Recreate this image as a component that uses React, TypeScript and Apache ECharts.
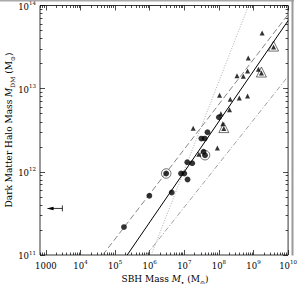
import React, { useEffect, useRef } from "react";
import * as echarts from "echarts";

// axis ranges in log10 units
const xRange = [2.83, 10];
const yRange = [11, 14];

const xMajorTicks = [3, 4, 5, 6, 7, 8, 9, 10];
const xTickLabels = ["1000", "10^4", "10^5", "10^6", "10^7", "10^8", "10^9", "10^10"];
const yMajorTicks = [11, 12, 13, 14];
const yTickLabels = ["10^11", "10^12", "10^13", "10^14"];

// [log10 M_BH, log10 M_DM]
const circlePoints = [
  [5.257, 11.336], [5.991, 11.712], [6.637, 11.752], [6.477, 11.98],
  [6.906, 11.98], [7.0, 11.98], [7.094, 11.908], [7.086, 12.116],
  [7.229, 12.104], [7.494, 12.4], [7.591, 12.4], [7.671, 12.476],
  [7.557, 12.242], [7.6, 12.2], [8.0, 12.656],
];
const trianglePoints = [
  [7.257, 12.524], [7.42, 12.212], [7.957, 12.288], [8.057, 12.698],
  [8.114, 12.578], [8.143, 12.52], [8.306, 12.746], [8.02, 12.92],
  [8.329, 12.872], [8.591, 12.888], [8.829, 12.912], [8.523, 13.156],
  [8.706, 13.148], [8.829, 13.212], [9.143, 13.232], [9.229, 13.188],
  [8.849, 13.368], [9.249, 13.67], [9.58, 13.5],
];
const ringedCircles = [[6.477, 11.98], [7.6, 12.2]];
const ringedTriangles = [[8.143, 12.52], [9.229, 13.188], [9.58, 13.5]];
// [upper-limit log10 M_BH, log10 M_DM, arrow tip log10 M_BH]
const upperLimit = [[3.477, 11.56, 3.02]];

const solidLine = [[5.35, 11], [10, 13.818]];
const dashedLine = [[4.643, 11], [10, 13.892]];
const dottedLine = [[6.043, 11], [8.857, 14]];
const dashDotLine = [[5.903, 11], [10, 13.149]];

const SERIF = "DejaVu Serif";

function minorTicks(lo: number, hi: number) {
  const out: number[] = [];
  for (let n = Math.floor(lo); n < hi; n++) {
    for (let k = 2; k <= 9; k++) {
      const v = n + Math.log10(k);
      if (v > lo && v < hi) out.push(v);
    }
  }
  return out;
}

function richLabel(s: string) {
  const i = s.indexOf("^");
  if (i < 0) return "{b|" + s + "}";
  return "{b|" + s.slice(0, i) + "}{s|" + s.slice(i + 1) + "}";
}

const labelRich = {
  b: { fontSize: 8.5, fontFamily: SERIF, color: "#000", lineHeight: 11, verticalAlign: "bottom" },
  s: { fontSize: 5.5, fontFamily: SERIF, color: "#000", lineHeight: 6, verticalAlign: "top" },
};

export default function App() {
  const ref = useRef<HTMLDivElement>(null);
  useEffect(() => {
    const chart = echarts.init(ref.current!, null, { renderer: "svg" });
    const xMinor = minorTicks(xRange[0], xRange[1]);
    const yMinor = minorTicks(yRange[0], yRange[1]);
    const xLab = (v: number) => {
      const idx = xMajorTicks.indexOf(Math.round(v));
      return idx >= 0 ? richLabel(xTickLabels[idx]) : "";
    };
    const yLab = (v: number) => {
      const idx = yMajorTicks.indexOf(Math.round(v));
      return idx >= 0 ? richLabel(yTickLabels[idx]) : "";
    };
    const baseX = (pos: string, ticks: number[], len: number, labels: boolean) => ({
      type: "value",
      position: pos,
      min: xRange[0],
      max: xRange[1],
      axisLine: { show: false },
      splitLine: { show: false },
      axisTick: { show: true, inside: true, length: len, customValues: ticks, lineStyle: { color: "#000", width: 0.7 } },
      axisLabel: labels
        ? { show: true, customValues: xMajorTicks, formatter: xLab, rich: labelRich, margin: 4 }
        : { show: false },
    });
    const baseY = (pos: string, ticks: number[], len: number, labels: boolean) => ({
      type: "value",
      position: pos,
      min: yRange[0],
      max: yRange[1],
      axisLine: { show: false },
      splitLine: { show: false },
      axisTick: { show: true, inside: true, length: len, customValues: ticks, lineStyle: { color: "#000", width: 0.7 } },
      axisLabel: labels
        ? { show: true, customValues: yMajorTicks, formatter: yLab, rich: labelRich, margin: 4 }
        : { show: false },
    });
    const lineSeries = (data: number[][], color: string, type: any, width = 0.8) => ({
      type: "line",
      data,
      showSymbol: false,
      symbol: "none",
      clip: true,
      lineStyle: { color, width, type },
      z: 2,
    });
    chart.setOption({
      animation: false,
      grid: { left: 40, right: 9, top: 5, bottom: 29, show: true, borderColor: "#000", borderWidth: 0.8, backgroundColor: "#fff" },
      xAxis: [
        baseX("bottom", xMajorTicks, 5, true),
        baseX("bottom", xMinor, 2.5, false),
        baseX("top", xMajorTicks, 5, false),
        baseX("top", xMinor, 2.5, false),
      ],
      yAxis: [
        baseY("left", yMajorTicks, 5, true),
        baseY("left", yMinor, 2.5, false),
        baseY("right", yMajorTicks, 5, false),
        baseY("right", yMinor, 2.5, false),
      ],
      series: [
        lineSeries(solidLine, "#000", "solid", 1),
        lineSeries(dashedLine, "#666", [6, 3], 0.8),
        lineSeries(dottedLine, "#999", [1, 1.6], 0.8),
        lineSeries(dashDotLine, "#888", [5, 2, 1, 2], 0.8),
        {
          type: "scatter",
          data: circlePoints,
          symbol: "circle",
          symbolSize: 5.8,
          itemStyle: { color: "#000" },
          z: 4,
        },
        {
          type: "scatter",
          data: trianglePoints,
          symbol: "triangle",
          symbolSize: 5,
          itemStyle: { color: "#000" },
          z: 4,
        },
        {
          type: "scatter",
          data: ringedCircles,
          symbol: "circle",
          symbolSize: 9.5,
          itemStyle: { color: "none", borderColor: "#000", borderWidth: 0.7 },
          z: 3,
        },
        {
          type: "scatter",
          data: ringedTriangles,
          symbol: "triangle",
          symbolSize: 10,
          symbolOffset: [0, -1],
          itemStyle: { color: "none", borderColor: "#000", borderWidth: 0.7 },
          z: 3,
        },
        {
          type: "custom",
          data: upperLimit,
          z: 4,
          renderItem: (params: any, api: any) => {
            const p1 = api.coord([api.value(0), api.value(1)]);
            const p0 = api.coord([api.value(2), api.value(1)]);
            return {
              type: "group",
              children: [
                { type: "line", shape: { x1: p0[0] + 4, y1: p0[1], x2: p1[0], y2: p1[1] }, style: { stroke: "#000", lineWidth: 0.8 } },
                { type: "polygon", shape: { points: [[p0[0], p0[1]], [p0[0] + 7, p0[1] - 1.7], [p0[0] + 7, p0[1] + 1.7]] }, style: { fill: "#000" } },
                { type: "line", shape: { x1: p1[0], y1: p1[1] - 3, x2: p1[0], y2: p1[1] + 3 }, style: { stroke: "#000", lineWidth: 0.8 } },
              ],
            };
          },
        },
      ],
      graphic: [
        { type: "rect", shape: { x: 0, y: 0, width: 294, height: 1.5 }, style: { fill: "#aaa" }, z: 10 },
        { type: "rect", shape: { x: 291.5, y: 0, width: 2, height: 255.5 }, style: { fill: "#999" }, z: 10 },
        {
          type: "text",
          x: 9,
          y: 130,
          rotation: Math.PI / 2,
          style: {
            text: "{n|Dark Matter Halo Mass }{i|M}{sub|DM}{n| (M}{sub|⊙}{n|)}",
            align: "center",
            verticalAlign: "middle",
            rich: {
              n: { fontSize: 9, fontFamily: SERIF, color: "#000", lineHeight: 12 },
              i: { fontSize: 9, fontFamily: SERIF, fontStyle: "italic", color: "#000", lineHeight: 12 },
              sub: { fontSize: 6, fontFamily: SERIF, color: "#000", lineHeight: 6, verticalAlign: "bottom" },
            },
          },
        },
        {
          type: "text",
          x: 165,
          y: 279,
          style: {
            text: "{n|SBH Mass }{i|M}{sub|•}{n| (M}{sub|⊙}{n|)}",
            align: "center",
            verticalAlign: "middle",
            rich: {
              n: { fontSize: 9, fontFamily: SERIF, color: "#000", lineHeight: 12 },
              i: { fontSize: 9, fontFamily: SERIF, fontStyle: "italic", color: "#000", lineHeight: 12 },
              sub: { fontSize: 6, fontFamily: SERIF, color: "#000", lineHeight: 6, verticalAlign: "bottom" },
            },
          },
        },
      ],
    });
    return () => chart.dispose();
  }, []);
  return <div ref={ref} style={{ position: "fixed", left: 0, top: 0, width: 300, height: 284, background: "#fff" }} />;
}
